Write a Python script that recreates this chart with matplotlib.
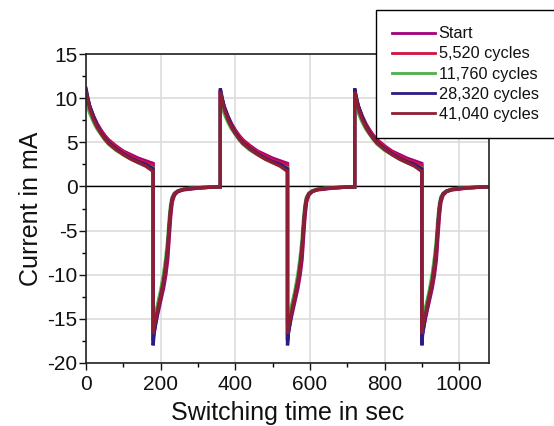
import matplotlib
matplotlib.use("Agg")
import matplotlib.pyplot as plt
import numpy as np
from matplotlib.ticker import MultipleLocator

plt.rcParams['font.family'] = ['Liberation Sans', 'DejaVu Sans']
plt.rcParams['axes.unicode_minus'] = False

# ---- data (one switching cycle, times relative to start of cycle) ----
labels = ["Start", "5,520 cycles", "11,760 cycles", "28,320 cycles", "41,040 cycles"]
colors = ["#a3007f", "#d2123f", "#4db04a", "#2b1b86", "#8e1f33"]

cycle_starts = [0, 360, 720]
period_end = 1080

# colouring (positive) half: t = 0..180 s
t_on = [0, 5, 10, 20, 30, 40, 50, 60, 80, 100, 120, 140, 160, 180]
i_on_start = [10.9, 9.9, 9.1, 8.0, 7.1, 6.4, 5.8, 5.3, 4.6, 4.0, 3.6, 3.2, 2.9, 2.6]
i_on_5520  = [10.8, 9.8, 9.0, 7.9, 7.0, 6.3, 5.7, 5.2, 4.5, 3.9, 3.4, 3.0, 2.7, 2.4]
i_on_11760 = [9.6, 8.9, 8.3, 7.3, 6.5, 5.9, 5.3, 4.8, 4.1, 3.6, 3.1, 2.7, 2.4, 2.1]
i_on_28320 = [11.1, 10.0, 9.1, 7.9, 6.9, 6.1, 5.5, 5.0, 4.3, 3.7, 3.2, 2.8, 2.5, 2.0]
i_on_41040 = [10.7, 9.7, 8.8, 7.6, 6.7, 6.0, 5.4, 4.9, 4.2, 3.6, 3.1, 2.7, 2.3, 1.7]

# bleaching (negative) half: t = 180..360 s
t_off = [180, 182, 190, 200, 208, 214, 219, 223, 227, 231, 237, 246, 260, 280, 300, 330, 360]
i_off_start = [-17.3, -16.6, -14.9, -13.0, -11.5, -10.0, -8.3, -5.8, -3.4, -1.8, -1.0, -0.6, -0.4, -0.3, -0.2, -0.1, -0.05]
i_off_5520  = [-17.5, -16.4, -14.5, -12.6, -11.0, -9.3, -7.5, -5.0, -2.9, -1.6, -0.9, -0.55, -0.35, -0.25, -0.15, -0.1, -0.05]
i_off_11760 = [-15.6, -15.0, -13.7, -11.8, -9.9, -8.0, -6.0, -3.6, -2.0, -1.2, -0.75, -0.5, -0.3, -0.2, -0.15, -0.1, -0.05]
i_off_28320 = [-18.0, -16.8, -14.6, -12.5, -10.8, -9.0, -7.0, -4.5, -2.5, -1.4, -0.85, -0.55, -0.35, -0.25, -0.15, -0.1, -0.05]
i_off_41040 = [-16.7, -16.0, -14.4, -12.4, -10.7, -8.9, -6.9, -4.4, -2.4, -1.4, -0.85, -0.55, -0.35, -0.25, -0.15, -0.1, -0.05]

i_on_all = [i_on_start, i_on_5520, i_on_11760, i_on_28320, i_on_41040]
i_off_all = [i_off_start, i_off_5520, i_off_11760, i_off_28320, i_off_41040]

# ---- figure ----
fig = plt.figure(figsize=(5.54, 4.26), dpi=100)
ax = fig.add_axes([86/554, 1 - 363/426, (489 - 86)/554, (363 - 54)/426])

for lab, col, ion, ioff in zip(labels, colors, i_on_all, i_off_all):
    ts, vs = [], []
    for c0 in cycle_starts:
        ts += [c0 + t for t in t_on] + [c0 + t for t in t_off]
        vs += list(ion) + list(ioff)
    ax.plot(ts, vs, color=col, lw=2.4, label=lab, solid_joinstyle='miter')

ax.axhline(0, color='black', lw=1.0, zorder=1)

ax.set_xlim(0, period_end)
ax.set_ylim(-20, 15)
ax.xaxis.set_major_locator(MultipleLocator(200))
ax.xaxis.set_minor_locator(MultipleLocator(100))
ax.yaxis.set_major_locator(MultipleLocator(5))
ax.yaxis.set_minor_locator(MultipleLocator(2.5))
ax.grid(True, which='major', color='#dcdcdc', lw=1.2, zorder=0)
ax.set_axisbelow(True)
ax.tick_params(which='major', direction='out', length=5, width=1, labelsize=15, colors='#111111')
ax.tick_params(axis='x', which='major', pad=4)
ax.tick_params(axis='y', which='major', pad=1)
ax.tick_params(which='minor', direction='out', length=3, width=1)
for s in ax.spines.values():
    s.set_linewidth(1.2)
    s.set_color('#222222')

ax.set_xlabel("Switching time in sec", fontsize=18, labelpad=5, color='#111111')
ax.set_ylabel("Current in mA", fontsize=18, labelpad=3, color='#111111')

leg = fig.legend(loc='upper left', bbox_to_anchor=(376/554, 1 - 10/426), fontsize=11.7,
                 frameon=True, fancybox=False, edgecolor='black', framealpha=1,
                 handlelength=2.6, handletextpad=0.25, labelspacing=0.32,
                 borderpad=1.0, borderaxespad=0)
leg.get_frame().set_linewidth(1.0)
for h in leg.get_lines():
    h.set_linewidth(2.0)
for t in leg.get_texts():
    t.set_color('#111111')

fig.savefig("out.png", dpi=100)
